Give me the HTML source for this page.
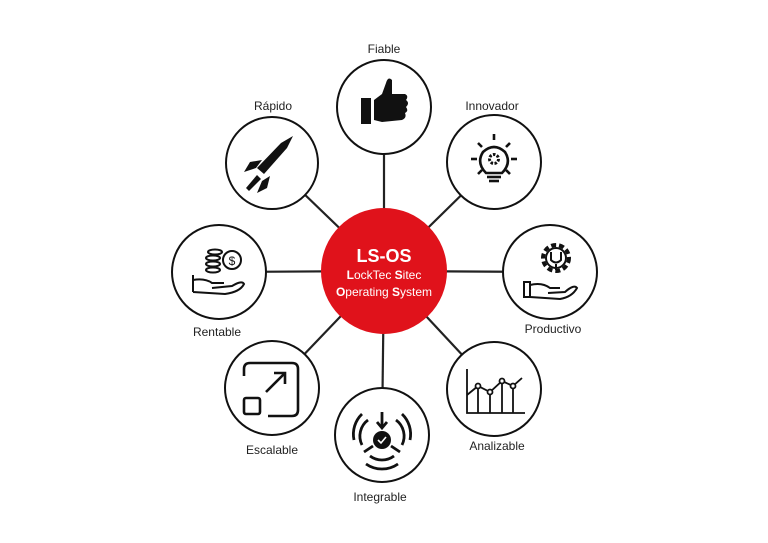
<!DOCTYPE html>
<html><head><meta charset="utf-8"><style>
html,body{margin:0;padding:0;background:#fff;}
svg{display:block;}
text{font-family:"Liberation Sans",sans-serif;}
</style></head><body>
<svg width="768" height="543" viewBox="0 0 768 543" xmlns="http://www.w3.org/2000/svg">
<g stroke="#222" stroke-width="2.2">
<line x1="384" y1="271" x2="384" y2="107"/>
<line x1="384" y1="271" x2="272" y2="163"/>
<line x1="384" y1="271" x2="494" y2="163"/>
<line x1="384" y1="271" x2="219" y2="272"/>
<line x1="384" y1="271" x2="550" y2="272"/>
<line x1="384" y1="271" x2="272" y2="388"/>
<line x1="384" y1="271" x2="494" y2="389"/>
<line x1="384" y1="271" x2="382" y2="435"/>
</g>
<g fill="#fff" stroke="#111" stroke-width="2">
<circle cx="384" cy="107" r="47"/>
<circle cx="272" cy="163" r="46"/>
<circle cx="494" cy="162" r="47"/>
<circle cx="219" cy="272" r="47"/>
<circle cx="550" cy="272" r="47"/>
<circle cx="272" cy="388" r="47"/>
<circle cx="494" cy="389" r="47"/>
<circle cx="382" cy="435" r="47"/>
</g>
<circle cx="384" cy="271" r="63" fill="#e0121b"/>
<text x="384" y="262" text-anchor="middle" fill="#fff" font-size="18" font-weight="bold">LS-OS</text>
<text x="384" y="279" text-anchor="middle" fill="#fff" font-size="12"><tspan font-weight="bold">L</tspan>ockTec <tspan font-weight="bold">S</tspan>itec</text>
<text x="384" y="296" text-anchor="middle" fill="#fff" font-size="12"><tspan font-weight="bold">O</tspan>perating <tspan font-weight="bold">S</tspan>ystem</text>
<g font-size="12" fill="#222" text-anchor="middle">
<text x="384" y="53">Fiable</text>
<text x="273" y="110">Rápido</text>
<text x="492" y="110">Innovador</text>
<text x="217" y="336">Rentable</text>
<text x="553" y="333">Productivo</text>
<text x="272" y="454">Escalable</text>
<text x="497" y="450">Analizable</text>
<text x="380" y="501">Integrable</text>
</g>
<!-- thumbs up -->
<g fill="#111">
<rect x="361" y="98" width="10" height="26"/>
<path d="M374 100 L382 94 L386 83 Q388 76 392 80 L392 94 L405 94 Q409 96 406 100 Q410 103 406 107 Q409 111 405 113 Q407 118 402 120 L382 122 L374 120 Z"/>
</g>
<!-- rocket -->
<g fill="#111">
<path d="M293 136 L287 148 L264 174 L257 168 L281 143 Z"/>
<path d="M262 160 L250 162 L244 172 L256 168 Z"/>
<path d="M270 176 L267 188 L257 193 L262 181 Z"/>
<path d="M257 175 L246 188 L249 191 L261 179 Z"/>
</g>
<!-- bulb -->
<g fill="none" stroke="#111" stroke-width="2.6">
<path d="M486 173 Q476 163 483 152 Q494 142 505 152 Q512 163 502 173 Z"/>
<line x1="487" y1="177" x2="501" y2="177"/><line x1="489" y1="181" x2="499" y2="181"/>
<circle cx="494" cy="159" r="4.5" stroke-dasharray="2.5 1.5" stroke-width="3"/>
<line x1="494" y1="134" x2="494" y2="140"/><line x1="471" y1="159" x2="477" y2="159"/><line x1="511" y1="159" x2="517" y2="159"/>
<line x1="478" y1="143" x2="482" y2="147"/><line x1="510" y1="143" x2="506" y2="147"/>
<line x1="478" y1="174" x2="482" y2="170"/><line x1="510" y1="174" x2="506" y2="170"/>
</g>
<!-- money hand -->
<g fill="none" stroke="#111" stroke-width="2">
<circle cx="232" cy="260" r="9"/>
<text x="232" y="265" font-size="12" text-anchor="middle" fill="#111" stroke="none">$</text>
<ellipse cx="215" cy="252" rx="7" ry="2.5"/><ellipse cx="213" cy="258" rx="7" ry="2.5"/><ellipse cx="213" cy="264" rx="7" ry="2.5"/><ellipse cx="213" cy="270" rx="7" ry="2.5"/>
<path d="M193 275 L193 292 M193 280 Q205 278 212 283 L224 283 M212 288 L232 286 Q242 280 244 284 Q240 292 225 294 L193 292"/>
</g>
<!-- gear hand -->
<g fill="none" stroke="#111" stroke-width="2">
<circle cx="556" cy="258" r="13" stroke-dasharray="5 3" stroke-width="4"/>
<circle cx="556" cy="258" r="10"/>
<path d="M551 252 L551 260 Q556 265 561 260 L561 252 M556 264 L556 270"/>
<path d="M524 282 L524 297 L530 297 L530 282 Z M530 285 Q542 282 550 288 L560 288 M548 293 L565 292 Q574 284 577 288 Q572 297 560 299 L530 297"/>
</g>
<!-- escalable -->
<g fill="none" stroke="#111" stroke-width="2.6">
<path d="M244 376 L244 369 Q244 363 250 363 L292 363 Q298 363 298 369 L298 410 Q298 416 292 416 L268 416"/>
<rect x="244" y="398" width="16" height="16" rx="2"/>
<line x1="266" y1="392" x2="284" y2="374"/>
<path d="M274 373 L285 373 L285 384"/>
</g>
<!-- chart -->
<g fill="none" stroke="#111" stroke-width="1.8">
<path d="M467 369 L467 413 L525 413"/>
<line x1="478" y1="388" x2="478" y2="413"/><line x1="490" y1="394" x2="490" y2="413"/><line x1="502" y1="383" x2="502" y2="413"/><line x1="513" y1="388" x2="513" y2="413"/>
<path d="M467 395 L478 386 L490 392 L502 381 L513 386 L522 378"/>
<circle cx="478" cy="386" r="2.5" fill="#fff"/><circle cx="490" cy="392" r="2.5" fill="#fff"/><circle cx="502" cy="381" r="2.5" fill="#fff"/><circle cx="513" cy="386" r="2.5" fill="#fff"/>
</g>
<!-- integrable -->
<g fill="none" stroke="#111" stroke-width="2.8">
<path d="M368 420 A20 20 0 0 0 362 445"/><path d="M396 420 A20 20 0 0 1 402 445"/><path d="M370 456 A20 20 0 0 0 394 456"/>
<path d="M362 414 A28 28 0 0 0 354 440"/><path d="M402 414 A28 28 0 0 1 410 440"/><path d="M366 464 A28 28 0 0 0 398 464"/>
<line x1="382" y1="412" x2="382" y2="426"/><path d="M377 422 L382 428 L387 422"/>
<line x1="364" y1="452" x2="373" y2="446"/><line x1="400" y1="452" x2="391" y2="446"/>
</g>
<circle cx="382" cy="440" r="9" fill="#111"/>
<path d="M378 440 L381 443 L386 437" stroke="#fff" stroke-width="1.6" fill="none"/>
</svg>
</body></html>
